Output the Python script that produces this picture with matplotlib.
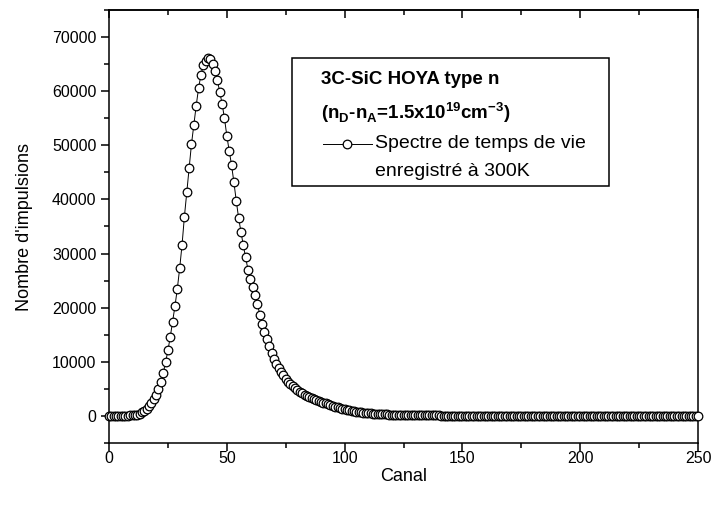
import numpy as np
import matplotlib
matplotlib.use("Agg")
import matplotlib.pyplot as plt
from matplotlib.patches import Rectangle
from matplotlib.lines import Line2D
from matplotlib.ticker import MultipleLocator

plt.rcParams["font.family"]=["Liberation Sans","DejaVu Sans"]
plt.rcParams["mathtext.fontset"]="custom"
plt.rcParams["mathtext.rm"]="Liberation Sans"
plt.rcParams["mathtext.bf"]="Liberation Sans:bold"

# canal 0..250, un point par canal
canal=np.arange(0,251)
impulsions=[40,30,50,40,30,50,60,50,70,
    90,120,170,250,400,650,950,1300,1750,2300,3100,3900,
    4900,6200,7900,9900,12100,14600,17400,20300,23500,27300,31600,36800,41300,45800,50200,53800,57300,60500,63000,64800,65600,66200,
    65900,65000,63700,62000,59800,57700,55000,51800,49000,46400,43200,39800,36600,34000,31500,29300,27000,25300,23800,22300,20700,18700,17000,
    15500,14200,12900,11600,10500,9600,8900,8200,7500,6800,6300,5900,5500,5100,4750,4450,4150,3900,3650,3450,3250,3050,2900,2750,2600,2450,
    2300,2150,2000,1850,1700,1580,1460,1350,1250,1150,1050,960,880,800,730,670,610,560,510,470,430,400,370,340,320,300,280,260,240,
    225,210,195,180,170,160,150,140,130,120,
    115,110,105,100,98,95,90,88,85,82,80,78,76,74,72,70,68,67,66,64,
    63,62,60,60,58,57,56,55,55,54,53,52,52,51,50,50,49,48,48,47,
    47,46,46,45,45,44,44,44,43,43,42,42,42,41,41,41,40,40,40,40,
    39,39,39,38,38,38,38,37,37,37,37,36,36,36,36,36,35,35,35,35,
    35,34,34,34,34,34,33,33,33,33,33,33,32,32,32,32,32,32,31,31,
    31,31,31,31,31,30,30,30,30,30,30,30,29,29,29,29,29,29,29,28]
xticks=[0,50,100,150,200,250]
yticks=[0,10000,20000,30000,40000,50000,60000,70000]

W,H=714,511
fig=plt.figure(figsize=(W/100,H/100),dpi=100)
ax=fig.add_axes([109/W,1-443/H,(698-109)/W,(443-10)/H])

ax.plot(canal,impulsions,color="black",lw=0.7,marker="o",ms=6.2,mfc="white",mec="black",mew=0.9,clip_on=False,zorder=5)

ax.set_xlim(0,250)
ax.set_ylim(-5000,75000)
ax.set_xticks(xticks)
ax.set_yticks(yticks)
ax.set_yticklabels([str(v) for v in yticks])
ax.xaxis.set_minor_locator(MultipleLocator(25))
ax.yaxis.set_minor_locator(MultipleLocator(5000))
ax.tick_params(axis="both",which="major",direction="out",length=6,width=1.1,labelsize=11.5,colors="black")
ax.tick_params(axis="both",which="minor",direction="out",length=3.5,width=1.1)
ax.tick_params(axis="x",which="major",pad=0)
ax.tick_params(axis="y",which="major",pad=3)
for s in ax.spines.values():
    s.set_linewidth(1.1)
# ticks du haut vers l'interieur
sec=ax.secondary_xaxis("top")
sec.set_xticks(xticks)
sec.xaxis.set_minor_locator(MultipleLocator(25))
sec.tick_params(which="major",direction="in",length=6,width=1.1,labeltop=False)
sec.tick_params(which="minor",direction="in",length=3.5,width=1.1)
sec.spines["top"].set_linewidth(1.1)

ax.set_xlabel("Canal",fontsize=13,labelpad=1)
ax.set_ylabel("Nombre d'impulsions",fontsize=13,labelpad=14)

# legende dessinee a la main
def fx(px): return px/W
def fy(py): return 1-py/H
fig.patches.append(Rectangle((fx(292),fy(186)),fx(609)-fx(292),fy(58)-fy(186),transform=fig.transFigure,fill=False,edgecolor="black",lw=1.1,zorder=10))
fig.text(fx(321),fy(80),"3C-SiC HOYA type n",fontsize=13.5,fontweight="bold",va="center",ha="left")
fig.text(fx(321),fy(113),r"(n$_\mathbf{D}$-n$_\mathbf{A}$=1.5x10$^\mathbf{19}$cm$^\mathbf{-3}$)",fontsize=13.5,fontweight="bold",va="center",ha="left")
fig.lines.append(Line2D([fx(323),fx(372)],[fy(144),fy(144)],transform=fig.transFigure,color="black",lw=0.7))
fig.lines.append(Line2D([fx(347)],[fy(144)],transform=fig.transFigure,marker="o",ms=6.2,mfc="white",mec="black",mew=0.9,lw=0))
fig.text(fx(375),fy(144),"Spectre de temps de vie",fontsize=14,va="center",ha="left")
fig.text(fx(375),fy(172),"enregistré à 300K",fontsize=14,va="center",ha="left")

fig.savefig("out.png",dpi=100)
